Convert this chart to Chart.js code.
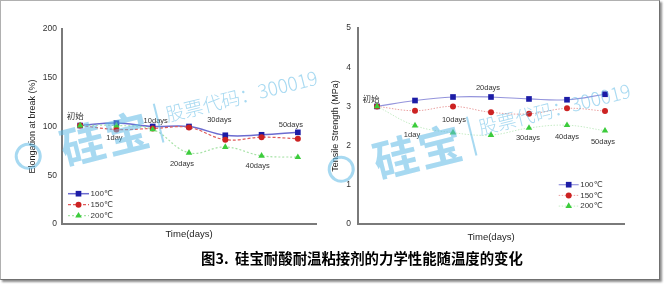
<!DOCTYPE html>
<html>
<head>
<meta charset="utf-8">
<script src="https://cdn.jsdelivr.net/npm/chart.js@4/dist/chart.umd.min.js"></script>
<style>
body { margin: 0; width: 664px; height: 285px; position: relative; background: #fff; overflow: hidden; font-family: Arial, "Liberation Sans", sans-serif; }
#frame { position: absolute; left: 0; top: 0; width: 658px; height: 278px; border: 1px solid #b0b0b0; border-right-color: #707070; border-bottom-color: #707070; box-shadow: 2px 2px 2px rgba(0,0,0,.45); }
#elong { position: absolute; left: 0; top: 0; }
#tensile { position: absolute; left: 330px; top: 0; }
#caption { position: absolute; left: 201px; top: 250px; font: 700 14.4px/15px "Noto Sans CJK SC", sans-serif; color: #000; white-space: pre; }
.wm { position: absolute; display: flex; align-items: center; transform: rotate(-14deg); transform-origin: 0 50%; color: rgba(95,185,230,.55); white-space: nowrap; pointer-events: none; line-height: 1; }
.wm .logo { width: 21px; height: 21px; border: 3px solid currentColor; border-radius: 50%; margin-right: 20px; }
.wm .big { font: 700 44px "Noto Sans CJK SC", sans-serif; letter-spacing: 2px; }
.wm .bar { width: 2px; height: 40px; background: currentColor; margin: 0 8px; }
.wm .code { font: 300 19px "Noto Sans CJK SC", sans-serif; position: relative; top: -8px; }
</style>
</head>
<body>
<div id="frame"></div>
<canvas id="elong" width="332" height="285"></canvas>
<canvas id="tensile" width="334" height="285"></canvas>
<div class="wm" style="left:15px;top:127px"><span class="logo"></span><span class="big">硅宝</span><span class="bar"></span><span class="code">股票代码：300019</span></div>
<div class="wm" style="left:328px;top:140px"><span class="logo"></span><span class="big">硅宝</span><span class="bar"></span><span class="code">股票代码：300019</span></div>
<div id="caption">图3.  硅宝耐酸耐温粘接剂的力学性能随温度的变化</div>
<script>
// data
const categories = ['初始', '1day', '10days', '20days', '30days', '40days', '50days'];
const seriesNames = ['100℃', '150℃', '200℃'];
const elongation100 = [101, 103.5, 100, 100, 91, 91.5, 94];
const elongation150 = [101, 97, 98, 99, 86.5, 89, 87.5];
const elongation200 = [101, 101, 97, 73, 79, 70, 68.5];
const tensile100 = [3.0, 3.15, 3.24, 3.24, 3.19, 3.17, 3.31];
const tensile150 = [3.0, 2.89, 3.0, 2.85, 2.81, 2.95, 2.88];
const tensile200 = [3.0, 2.51, 2.33, 2.27, 2.45, 2.52, 2.38];
const elongationTicks = [0, 50, 100, 150, 200];
const tensileTicks = [0, 1, 2, 3, 4, 5];

Chart.defaults.font.family = 'Arial, "Liberation Sans", "Noto Sans CJK SC", sans-serif';
Chart.defaults.color = '#333';

// day names written next to the points
const dayLabels = {
    id: 'dayLabels',
    afterDatasetsDraw(chart, args, opts) {
        const { ctx } = chart;
        const x = chart.scales.x, y = chart.scales.y;
        ctx.save();
        ctx.fillStyle = '#333';
        ctx.textAlign = 'center';
        ctx.textBaseline = 'middle';
        chart.data.labels.forEach((lab, i) => {
            ctx.font = i === 0 ? '8.5px "Noto Sans CJK SC"' : '7.5px Arial, "Liberation Sans"';
            ctx.fillText(lab, x.getPixelForValue(i) + opts.dx[i], y.getPixelForValue(opts.at[i]));
        });
        ctx.restore();
    }
};

function drawMarker(ctx, style, x, y, r) {
    ctx.beginPath();
    if (style === 'rect') {
        const s = r * Math.SQRT1_2;
        ctx.rect(x - s, y - s, 2 * s, 2 * s);
    } else if (style === 'triangle') {
        ctx.moveTo(x, y - r);
        ctx.lineTo(x + r * 0.866, y + r * 0.5);
        ctx.lineTo(x - r * 0.866, y + r * 0.5);
        ctx.closePath();
    } else {
        ctx.arc(x, y, r, 0, Math.PI * 2);
    }
    ctx.fill();
}

// legend inside the plot, drawn from the datasets
const innerLegend = {
    id: 'innerLegend',
    afterDraw(chart, args, opts) {
        const { ctx } = chart;
        ctx.save();
        chart.data.datasets.forEach((ds, i) => {
            const yy = opts.y + i * opts.gap;
            ctx.strokeStyle = ds.borderColor;
            ctx.lineWidth = ds.borderWidth;
            ctx.setLineDash(ds.borderDash || []);
            ctx.beginPath();
            ctx.moveTo(opts.x, yy);
            ctx.lineTo(opts.x + opts.len, yy);
            ctx.stroke();
            ctx.setLineDash([]);
            ctx.fillStyle = ds.pointBackgroundColor;
            drawMarker(ctx, ds.pointStyle, opts.x + opts.len / 2, yy, ds.pointRadius);
            ctx.fillStyle = '#333';
            ctx.font = '8px Arial, "Liberation Sans", "DejaVu Sans"';
            ctx.textBaseline = 'middle';
            ctx.fillText(ds.label, opts.x + opts.len + 1.5, yy);
        });
        ctx.restore();
    }
};

function series(label, data, line, width, dash, point, style, r, order) {
    return {
        label, data, order,
        borderColor: line, borderWidth: width, borderDash: dash,
        pointStyle: style, pointRadius: r, pointBackgroundColor: point, pointBorderColor: point, pointBorderWidth: 0,
        tension: 0.4, fill: false
    };
}

function makeChart(id, c) {
    return new Chart(document.getElementById(id), {
        type: 'line',
        data: { labels: categories, datasets: c.datasets },
        options: {
            responsive: false,
            animation: false,
            devicePixelRatio: 1,
            layout: { padding: c.padding },
            plugins: { legend: { display: false }, tooltip: { enabled: false }, dayLabels: c.labels, innerLegend: c.legend },
            scales: {
                x: {
                    type: 'category', offset: true,
                    grid: { display: false, drawTicks: false },
                    border: { display: true, color: '#7a7a7a', width: 2 },
                    ticks: { display: false },
                    title: { display: true, text: 'Time(days)', color: '#222', font: { size: 9.5 }, padding: { top: 0, bottom: c.xTitlePad } },
                    afterFit: s => { s.height = 21; }
                },
                y: {
                    min: c.ticks[0], max: c.ticks[c.ticks.length - 1],
                    grid: { display: false, drawTicks: false },
                    border: { display: true, color: '#7a7a7a', width: 2 },
                    ticks: { font: { size: 8.5 }, padding: c.tickPad, color: '#333' },
                    afterBuildTicks: s => { s.ticks = c.ticks.map(v => ({ value: v })); },
                    title: { display: true, text: c.yTitle, color: '#222', font: { size: 9 }, padding: { top: 0, bottom: 0 } },
                    afterFit: s => { s.width = c.yWidth; }
                }
            }
        },
        plugins: [dayLabels, innerLegend]
    });
}

makeChart('elong', {
    datasets: [
        series(seriesNames[0], elongation100, '#6b6bd0', 1.5, [], '#1c1ca6', 'rect', 4, 2),
        series(seriesNames[1], elongation150, '#e05a5a', 1.2, [3, 2], '#cc2222', 'circle', 3, 1),
        series(seriesNames[2], elongation200, '#a6e2a6', 1.2, [2, 2], '#3ccc3c', 'triangle', 3.8, 0)
    ],
    ticks: elongationTicks,
    yTitle: 'Elongation at break (%)',
    padding: { left: 27, top: 29, right: 16, bottom: 40 },
    yWidth: 35, tickPad: 5, xTitlePad: 5.3,
    labels: { at: [111, 88.5, 106, 62, 106.7, 59.5, 102], dx: [-5, -2, 3, -7, -6, -4, -7] },
    legend: { x: 68, y: 193.7, gap: 11, len: 21 }
});

makeChart('tensile', {
    datasets: [
        series(seriesNames[0], tensile100, '#9494dc', 1.2, [], '#1c1ca6', 'rect', 4, 2),
        series(seriesNames[1], tensile150, '#eaa0a0', 1, [1.5, 1.5], '#cc2222', 'circle', 3, 1),
        series(seriesNames[2], tensile200, '#c6ecc6', 1, [1.5, 1.5], '#3ccc3c', 'triangle', 3.8, 0)
    ],
    ticks: tensileTicks,
    yTitle: 'Tensile Strength (MPa)',
    padding: { left: 0, top: 28, right: 40, bottom: 40 },
    yWidth: 28, tickPad: 7, xTitlePad: 2.3,
    labels: { at: [3.19, 2.28, 2.66, 3.47, 2.19, 2.22, 2.10], dx: [-6, -3, 1, -3, -1, 0, -2] },
    legend: { x: 228.7, y: 184.7, gap: 10.7, len: 20 }
});
</script>
</body>
</html>
